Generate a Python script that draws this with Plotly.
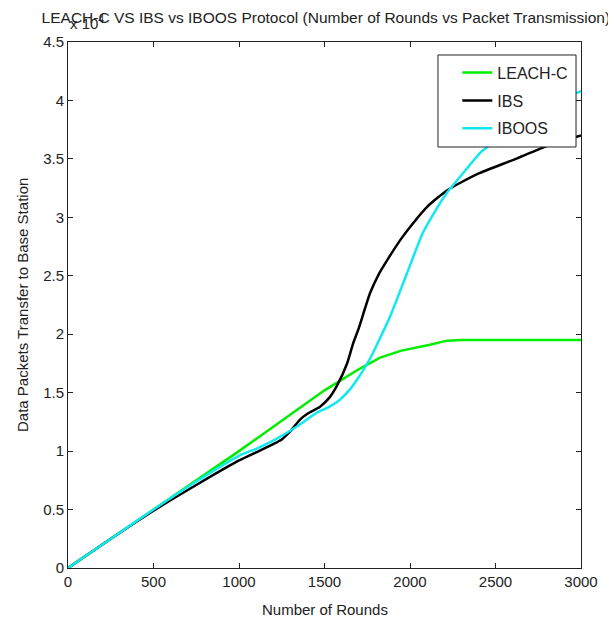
import plotly.graph_objects as go

# Values in units of 10^4 packets
leach_x = [0, 500, 1000, 1500, 1600, 1700, 1825, 1950, 2117, 2216, 2300, 3000]
leach_y = [0, 0.50, 1.00, 1.52, 1.61, 1.70, 1.80, 1.86, 1.91, 1.945, 1.95, 1.95]

ibs_x = [0, 250, 500, 750, 1000, 1100, 1200, 1250, 1300, 1357, 1400, 1474, 1530, 1573,
         1632, 1667, 1700, 1766, 1820, 1865, 1950, 2018, 2100, 2216, 2300, 2409, 2600, 2819, 3000]
ibs_y = [0, 0.25, 0.49, 0.71, 0.92, 0.99, 1.06, 1.10, 1.17, 1.27, 1.32, 1.38, 1.46, 1.56,
         1.75, 1.92, 2.05, 2.35, 2.52, 2.63, 2.82, 2.95, 3.09, 3.23, 3.30, 3.38, 3.49, 3.62, 3.70]

iboos_x = [0, 250, 500, 750, 1000, 1100, 1200, 1339, 1456, 1530, 1590, 1650, 1690, 1766,
           1842, 1883, 1982, 2076, 2150, 2216, 2300, 2409, 2450, 2600, 2800, 3000]
iboos_y = [0, 0.25, 0.50, 0.74, 0.96, 1.02, 1.09, 1.21, 1.33, 1.38, 1.44, 1.53, 1.61, 1.79,
           2.02, 2.15, 2.52, 2.87, 3.06, 3.21, 3.36, 3.55, 3.60, 3.77, 3.95, 4.08]

x_ticks = [0, 500, 1000, 1500, 2000, 2500, 3000]
y_ticks = [0, 0.5, 1, 1.5, 2, 2.5, 3, 3.5, 4, 4.5]
y_tick_text = ["0", "0.5", "1", "1.5", "2", "2.5", "3", "3.5", "4", "4.5"]

FONT = "Liberation Sans"
TXT = "#222"
fig = go.Figure()
fig.add_trace(go.Scatter(x=leach_x, y=leach_y, mode="lines", name="LEACH-C", legendgroup="a",
                         line=dict(color="#00ee00", width=2.5)))
fig.add_trace(go.Scatter(x=ibs_x, y=ibs_y, mode="lines", name="IBS", legendgroup="b",
                         line=dict(color="#000000", width=2.5, shape="spline", smoothing=0.6)))
fig.add_trace(go.Scatter(x=iboos_x, y=iboos_y, mode="lines", name="IBOOS", legendgroup="c",
                         line=dict(color="#11e8f0", width=2.5, shape="spline", smoothing=0.6)))

axis_common = dict(showline=True, linecolor=TXT, linewidth=1, mirror="ticks",
                   ticks="inside", ticklen=5, tickcolor=TXT, showgrid=False, zeroline=False,
                   automargin=False, tickfont=dict(family=FONT, size=15, color=TXT))
fig.update_layout(
    width=616, height=623,
    margin=dict(l=60, r=43, t=34, b=63),
    paper_bgcolor="white", plot_bgcolor="white",
    font=dict(family=FONT, color=TXT),
    title=dict(text="LEACH-C VS IBS vs IBOOS Protocol (Number of Rounds vs Packet Transmission)",
               x=0.516, xanchor="center", y=0.985, yanchor="middle",
               font=dict(family=FONT, size=15.5, color=TXT)),
    xaxis=dict(range=[0, 3000], tickvals=x_ticks, **axis_common),
    yaxis=dict(range=[0, 4.5], tickvals=y_ticks, ticktext=y_tick_text, **axis_common),
    legend=dict(x=0.985, xanchor="right", y=0.974, yanchor="top", bgcolor="rgba(0,0,0,0)",
                borderwidth=0, font=dict(family=FONT, size=16, color=TXT),
                tracegroupgap=4),
    showlegend=True,
)
# legend frame
fig.add_shape(type="rect", xref="paper", yref="paper", x0=0.7212, x1=0.9903, y0=0.8004, y1=0.9753,
              fillcolor="white", line=dict(color=TXT, width=1), layer="above")
# axis titles
fig.add_annotation(xref="paper", yref="paper", x=0.5, y=-0.0798, xanchor="center", yanchor="middle",
                   text="Number of Rounds", showarrow=False,
                   font=dict(family=FONT, size=15, color=TXT))
fig.add_annotation(xref="paper", yref="paper", x=-0.0897, y=0.5, xanchor="center", yanchor="middle",
                   text="Data Packets Transfer to Base Station", showarrow=False, textangle=-90,
                   font=dict(family=FONT, size=15, color=TXT))
fig.add_annotation(xref="paper", yref="paper", x=0.0, y=1.0, xanchor="left", yanchor="bottom",
                   text="x 10<sup>4</sup>", showarrow=False,
                   font=dict(family=FONT, size=15, color=TXT), yshift=8)
fig.write_html("out.html")
